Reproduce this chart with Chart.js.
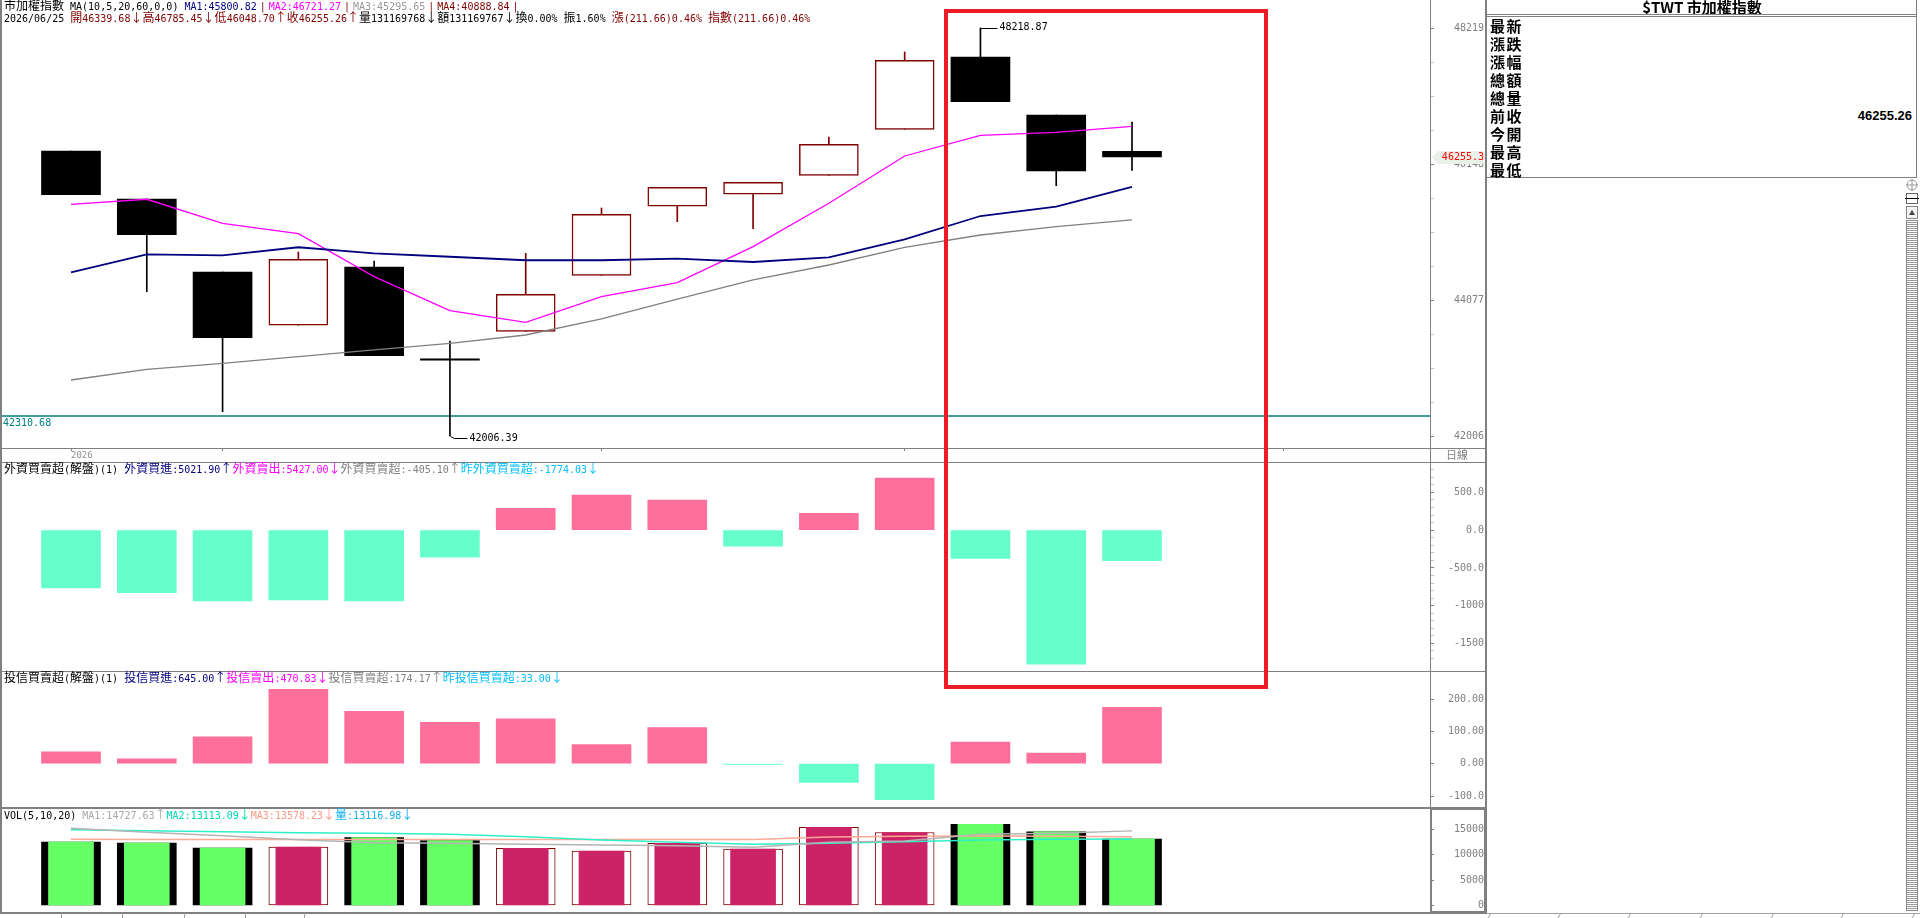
<!DOCTYPE html>
<html lang="zh-Hant">
<head>
<meta charset="utf-8">
<title>市加權指數</title>
<script src="https://cdn.jsdelivr.net/npm/chart.js@4.4.1/dist/chart.umd.min.js"></script>
<style>
html,body{margin:0;padding:0;background:#fff;}
body{width:1920px;height:918px;position:relative;overflow:hidden;}
canvas{position:absolute;left:0;}
.ln{position:absolute;background:#808080;}
.t{position:absolute;white-space:nowrap;font-family:"DejaVu Sans Mono",monospace;font-size:10px;line-height:12px;}
.t .c{font-family:"Noto Sans CJK TC",sans-serif;font-size:12px;line-height:12px;}
.t .p{padding:0 3px;}
.rp{position:absolute;font-family:"Noto Sans CJK TC",sans-serif;font-weight:bold;color:#000;white-space:nowrap;}
</style>
</head>
<body>
<canvas id="cPrice" width="1488" height="462" style="top:0px"></canvas>
<canvas id="cForeign" width="1488" height="209" style="top:462px"></canvas>
<canvas id="cTrust" width="1488" height="137" style="top:671px"></canvas>
<canvas id="cVol" width="1488" height="105" style="top:808px"></canvas>

<!-- frame lines -->
<div class="ln" style="left:0;top:0;width:2px;height:914px"></div>
<div class="ln" style="left:1430px;top:0;width:1px;height:914px"></div>
<div class="ln" style="left:1485px;top:0;width:2px;height:914px"></div>
<div class="ln" style="left:0;top:448px;width:1486px;height:1px"></div>
<div class="ln" style="left:0;top:462px;width:1486px;height:1px"></div>
<div class="ln" style="left:0;top:671px;width:1486px;height:1px"></div>
<div class="ln" style="left:0;top:807px;width:1486px;height:2px"></div>
<div class="ln" style="left:0;top:912px;width:1487px;height:2px"></div>
<div style="position:absolute;left:1430px;top:808px;width:56px;height:105px;border:2px solid #808080;box-sizing:border-box"></div>
<div class="t" style="left:1446px;top:448px;color:#808080"><span class="c" style="font-size:11px">日線</span></div>

<!-- bottom tab strip -->
<svg style="position:absolute;left:0;top:913px" width="1920" height="5">
  <g stroke="#a0a0a0" stroke-width="1">
    <line x1="61.5" y1="0" x2="61.5" y2="5"/><line x1="122.5" y1="0" x2="122.5" y2="5"/>
    <line x1="184.5" y1="0" x2="184.5" y2="5"/><line x1="245.5" y1="0" x2="245.5" y2="5"/>
    <line x1="304.5" y1="0" x2="304.5" y2="5"/>
    <line x1="1487" y1="0.5" x2="1920" y2="0.5"/>
    <line x1="1488" y1="5" x2="1491" y2="0"/><line x1="1558" y1="5" x2="1561" y2="0"/>
    <line x1="1628" y1="5" x2="1631" y2="0"/><line x1="1700" y1="5" x2="1703" y2="0"/>
    <line x1="1771" y1="5" x2="1774" y2="0"/><line x1="1841" y1="5" x2="1844" y2="0"/>
    <line x1="1912" y1="5" x2="1915" y2="0"/>
  </g>
</svg>

<!-- headers -->
<div class="t" id="h1" style="left:4px;top:-1px"></div>
<div class="t" id="h2" style="left:4px;top:11px"></div>
<div class="t" id="hF" style="left:4px;top:462px"></div>
<div class="t" id="hT" style="left:4px;top:671px"></div>
<div class="t" id="hV" style="left:4px;top:808px"></div>

<!-- right info panel -->
<div class="rp" style="left:1487px;top:-4px;width:430px;text-align:center;font-size:15px">$TWT 市加權指數</div>
<div class="ln" style="left:1487px;top:14px;width:430px;height:1px"></div>
<div class="ln" style="left:1487px;top:16px;width:430px;height:1px"></div>
<div class="ln" style="left:1916px;top:0;width:1px;height:178px"></div>
<div class="ln" style="left:1487px;top:177px;width:430px;height:1px"></div>
<div class="rp" id="rpLabels" style="left:1490px;top:17px;font-size:15px;line-height:18px;letter-spacing:1.5px"></div>
<div class="rp" id="rpValue" style="left:1700px;top:107px;width:212px;text-align:right;font-family:'Liberation Sans',sans-serif;font-size:13px;line-height:18px"></div>
<svg style="position:absolute;left:1904px;top:178px" width="16" height="736">
  <defs><pattern id="st" width="4" height="2" patternUnits="userSpaceOnUse"><rect width="4" height="1" fill="#9a9a9a"/></pattern></defs>
  <circle cx="8" cy="7" r="5" fill="none" stroke="#999"/>
  <line x1="2" y1="7" x2="14" y2="7" stroke="#999"/><line x1="8" y1="1" x2="8" y2="13" stroke="#999"/>
  <rect x="2.5" y="15.5" width="11" height="10" fill="#fff" stroke="#666"/>
  <line x1="1" y1="20.5" x2="15" y2="20.5" stroke="#000"/>
  <rect x="2.5" y="28.5" width="11" height="12" fill="#f4f4f4" stroke="#888"/>
  <path d="M5 37 L8 32 L11 37Z" fill="#444"/>
  <rect x="2.5" y="42.5" width="11" height="690" fill="url(#st)" stroke="#888"/>
</svg>

<div id="hl" style="position:absolute;border:4.5px solid #ED1C24;box-sizing:border-box"></div>

<script>
// ---------------- data ----------------
const dayIndex   = [0,1,2,3,4,5,6,7,8,9,10,11,12,13,14];
const opens      = [46346,45615,44503,43692,44580,43165,43600,44453,45504,45687,45976,46676,47777,46894,46339.68];
const highs      = [46346,45615,44503,44808,44671,43453,44788,45478,45793,45869,46559,47854,48218.87,46894,46785.45];
const lows       = [45681,44203,42376,43692,43229,42006.39,43600,44453,45269,45163,45976,46676,47097,45818,46048.70];
const closes     = [45681,45071,43503,44697,43229,43160,44164,45382,45793,45869,46448,47727,47097,46043.60,46255.26];
const ma10       = [44499,44773,44758,44880,44788,44736,44682,44682,44706,44656,44727,45001,45356,45498,45800.82];
const ma5        = [45534,45611,45245,45087,44432,43914,43737,44127,44341,44889,45550,46270,46585,46631,46721.27];
const ma20       = [42859,43022,43113,43214,43316,43418,43544,43788,44092,44382,44610,44880,45067,45193,45295.65];
const refLine    = 42310.68;
const foreignNet = [-763,-828,-937,-922,-937,-358,290,465,400,-210,223,690,-375,-1774.03,-405.10];
const trustNet   = [37,15,83,230,162,128,139,59,112,-2,-58,-111,67,33.00,174.17];
const volume     = [12530,12330,11350,11540,13380,12790,11290,10760,12280,11150,15450,14400,16000,14550,13116.98];
const volMa5     = [15236,14446,13775,12986,12394,12275,12078,11940,11802,11486,12473,12730,14052,14249,14727.63];
const volMa10    = [14960,14762,14565,14367,14249,14052,13578,12927,12473,12078,12275,12591,12927,13065,13113.09];
const volMa20    = [13060,13050,13040,13050,13040,13030,13040,13030,13020,13030,13500,13650,13700,13650,13578.23];
const priceTicks   = [42006,44077,46148,48219];
const foreignTicks = [-1500,-1000,-500,0,500];
const trustTicks   = [-100,0,100,200];
const volTicks     = [0,5000,10000,15000];
const dateMarks    = [0,2,7,11,16];
const dateLabels   = {0:'2026'};
const infoLabels   = ['最新','漲跌','漲幅','總額','總量','前收','今開','最高','最低'];
const prevClose    = 46255.26;

// ---------------- helpers ----------------
const X_MIN = -0.9105, X_MAX = 17.932;
const isUp = dayIndex.map(i => closes[i] >= opens[i]);
const pts = arr => arr.map((v,i) => ({x: dayIndex[i], y: v}));
const MONO = 'DejaVu Sans Mono';

function makeTicks(majors, step, lo, hi){
  const out = [];
  for (let k = 0; ; k++){ const v = majors[0] + (k - Math.ceil((majors[0]-lo)/step)) * step; if (v > hi + 1e-6) break; if (v >= lo - 1e-6) out.push(+v.toFixed(4)); }
  return out;
}
function noPad(s){ s.paddingTop = 0; s.paddingBottom = 0; s.paddingLeft = 0; s.paddingRight = 0; }
function yAxis(min, max, values, majors, labelFn){
  const isMajor = v => majors.some(m => Math.abs(m - v) < 0.01);
  return {
    position:'right', min, max,
    afterFit(s){ s.width = 54; noPad(s); },
    afterBuildTicks(s){ s.ticks = values.map(v => ({value:v})); },
    border:{display:true, color:'#808080', width:1},
    grid:{drawOnChartArea:false, drawTicks:true, tickLength:4, tickWidth:1,
      tickColor: c => (c.tick && isMajor(c.tick.value)) ? '#808080' : '#c4c4c4'},
    ticks:{autoSkip:false, padding:0, crossAlign:'far', color:'#808080',
      font:{family:MONO, size:10}, callback: v => isMajor(v) ? labelFn(v) : ''}
  };
}
function xHidden(){
  return {type:'linear', min:X_MIN, max:X_MAX, offset:false, display:false, grid:{offset:false}};
}
function common(scales){
  return {
    responsive:false, animation:false, devicePixelRatio:1, events:[],
    layout:{padding:{left:2, right:4, top:0, bottom:0}, autoPadding:false},
    plugins:{legend:{display:false}, tooltip:{enabled:false}},
    scales
  };
}

// ---------------- price chart ----------------
const priceDecor = {
  id:'priceDecor',
  afterDatasetsDraw(chart){
    const {ctx} = chart, x = chart.scales.x, y = chart.scales.y;
    ctx.save();
    ctx.font = '10px "' + MONO + '"';
    ctx.textBaseline = 'middle';
    ctx.textAlign = 'left';
    ctx.fillStyle = '#008080';
    ctx.fillText(refLine.toFixed(2), 3, y.getPixelForValue(refLine) + 7);
    const hi = Math.max(...highs), hiI = highs.indexOf(hi);
    const lo = Math.min(...lows),  loI = lows.indexOf(lo);
    ctx.strokeStyle = '#000'; ctx.fillStyle = '#000'; ctx.lineWidth = 1;
    let px = Math.round(x.getPixelForValue(hiI)) + 0.5, py = Math.round(y.getPixelForValue(hi)) + 0.5;
    ctx.beginPath(); ctx.moveTo(px, py); ctx.lineTo(px + 17, py); ctx.stroke();
    ctx.fillText(hi.toFixed(2), px + 19, py - 1);
    px = Math.round(x.getPixelForValue(loI)) + 0.5; py = Math.round(y.getPixelForValue(lo)) + 0.5;
    ctx.beginPath(); ctx.moveTo(px, py); ctx.lineTo(px + 4, py + 2); ctx.lineTo(px + 17, py + 2); ctx.stroke();
    ctx.fillText(lo.toFixed(2), px + 19, py + 2);
    ctx.restore();
  },
  afterDraw(chart){
    const {ctx} = chart, y = chart.scales.y;
    const last = closes[closes.length - 1];
    const yc = Math.round(y.getPixelForValue(last)) + 0.5;
    const l = y.left + 2, r = y.right + 1;
    ctx.save();
    ctx.fillStyle = '#E9F1E9';
    ctx.beginPath(); ctx.moveTo(l, yc); ctx.lineTo(l + 6, yc - 6.5); ctx.lineTo(r, yc - 6.5); ctx.lineTo(r, yc + 6.5); ctx.lineTo(l + 6, yc + 6.5); ctx.closePath(); ctx.fill();
    ctx.fillStyle = '#FF0000'; ctx.font = '10px "' + MONO + '"'; ctx.textAlign = 'right'; ctx.textBaseline = 'middle';
    ctx.fillText(last.toFixed(1), y.right, yc);
    ctx.restore();
  }
};

const priceChart = new Chart(document.getElementById('cPrice'), {
  type:'bar',
  data:{datasets:[
    {type:'line', data:pts(ma10), borderColor:'#000080', borderWidth:1.8, pointRadius:0, order:0},
    {type:'line', data:pts(ma5),  borderColor:'#FF00FF', borderWidth:1.3, pointRadius:0, order:0},
    {type:'line', data:pts(ma20), borderColor:'#808080', borderWidth:1.3, pointRadius:0, order:0},
    {type:'line', data:[{x:X_MIN,y:refLine},{x:X_MAX,y:refLine}], borderColor:'#008080', borderWidth:1.5, pointRadius:0, order:3},
    {type:'bar', data:dayIndex.map(i => ({x:i, y:[lows[i], highs[i]]})),
      backgroundColor:dayIndex.map(i => isUp[i] ? '#800000' : '#000000'),
      barThickness:1, grouped:false, order:2},
    {type:'bar', data:dayIndex.map(i => ({x:i, y:[opens[i], closes[i]]})),
      backgroundColor:dayIndex.map(i => isUp[i] ? '#FFFFFF' : '#000000'),
      borderColor:dayIndex.map(i => isUp[i] ? '#800000' : '#000000'),
      borderWidth:dayIndex.map(i => isUp[i] ? 1.5 : 0),
      borderSkipped:false, barThickness:59, minBarLength:1.5, grouped:false, order:1}
  ]},
  options:common({
    x:{type:'linear', min:X_MIN, max:X_MAX, offset:false, position:'bottom',
      afterFit(s){ s.height = 14; noPad(s); },
      afterBuildTicks(s){ s.ticks = dateMarks.map(v => ({value:v})); },
      border:{display:false},
      grid:{display:true, offset:false, drawOnChartArea:false, drawTicks:true, tickLength:3, color:'#808080'},
      ticks:{autoSkip:false, maxRotation:0, align:'start', padding:-1, color:'#909090',
        font:{family:MONO, size:9}, callback: v => dateLabels[v] || ''}},
    y:yAxis(41823.3, 48645.4, makeTicks(priceTicks, 517.75, 41823.3, 48645.4), priceTicks, v => String(Math.round(v)))
  }),
  plugins:[priceDecor]
});

// ---------------- foreign net ----------------
const fmtF = v => { let s = v.toFixed(1).slice(0,6); if (s.endsWith('.')) s = s.slice(0,-1); return s; };
new Chart(document.getElementById('cForeign'), {
  type:'bar',
  data:{datasets:[{data:pts(foreignNet),
    backgroundColor:foreignNet.map(v => v >= 0 ? '#FF6F9C' : '#66FFCC'),
    barThickness:59, grouped:false}]},
  options:common({
    x:xHidden(),
    y:yAxis(-1864.9, 903.3, makeTicks(foreignTicks, 100, -1750, 850), foreignTicks, fmtF)
  })
});

// ---------------- trust net ----------------
new Chart(document.getElementById('cTrust'), {
  type:'bar',
  data:{datasets:[{data:pts(trustNet),
    backgroundColor:trustNet.map(v => v >= 0 ? '#FF6F9C' : '#66FFCC'),
    barThickness:59, grouped:false}]},
  options:common({
    x:xHidden(),
    y:yAxis(-137.0, 286.7, trustTicks, trustTicks, v => v.toFixed(2).slice(0,6))
  })
});

// ---------------- volume ----------------
new Chart(document.getElementById('cVol'), {
  type:'bar',
  data:{datasets:[
    {type:'line', data:pts(volMa5),  borderColor:'#B4B4B4', borderWidth:1.5, pointRadius:0, order:0},
    {type:'line', data:pts(volMa10), borderColor:'#2EF0C8', borderWidth:1.5, pointRadius:0, order:0},
    {type:'line', data:pts(volMa20), borderColor:'#FFA894', borderWidth:1.5, pointRadius:0, order:0},
    {type:'bar', data:pts(volume),
      backgroundColor:dayIndex.map(i => isUp[i] ? '#FFFFFF' : '#000000'),
      borderColor:dayIndex.map(i => isUp[i] ? '#800000' : '#000000'),
      borderWidth:dayIndex.map(i => isUp[i] ? 1 : 0),
      borderSkipped:false, barThickness:59, grouped:false, order:2},
    {type:'bar', data:pts(volume),
      backgroundColor:dayIndex.map(i => isUp[i] ? '#CC2266' : '#66FF66'),
      barThickness:45, grouped:false, order:1}
  ]},
  options:common({
    x:xHidden(),
    y:yAxis(-1480, 19242, volTicks, volTicks, v => String(v))
  })
});

// ---------------- text ----------------
function esc(s){ return s.replace(/&/g,'&amp;').replace(/</g,'&lt;'); }
function mix(s){ return esc(s).replace(/[\u2190-\u21ff\u3000-\u9fff\uff00-\uffef]+/g, m => '<span class="c">' + m + '</span>'); }
function header(id, parts){
  document.getElementById(id).innerHTML = parts.map(([t, c]) =>
    t === '|' ? `<span class="p" style="color:${c}">|</span>` : `<span style="color:${c}">${mix(t)}</span>`).join('');
}
const f2 = v => v.toFixed(2);
header('h1', [['市加權指數 MA(10,5,20,60,0,0) ','#000'],
  ['MA1:' + f2(ma10[14]),'#000080'],['|','#800000'],
  ['MA2:' + f2(ma5[14]),'#FF00FF'],['|','#800000'],
  ['MA3:' + f2(ma20[14]),'#999999'],['|','#800000'],
  ['MA4:40888.84','#800000'],['|','#800000']]);
header('h2', [['2026/06/25 ','#000'],
  ['開' + f2(opens[14]) + '↓高' + f2(highs[14]) + '↓低' + f2(lows[14]) + '↑收' + f2(closes[14]) + '↑','#800000'],
  ['量131169768↓額131169767↓換0.00% 振1.60% ','#000'],
  ['漲(211.66)0.46% 指數(211.66)0.46%','#800000']]);
header('hF', [['外資買賣超(解盤)(1) ','#000'],['外資買進:5021.90↑','#000080'],['外資賣出:5427.00↓','#FF00FF'],
  ['外資買賣超:' + f2(foreignNet[14]) + '↑','#808080'],['昨外資買賣超:' + f2(foreignNet[13]) + '↓','#00BFFF']]);
header('hT', [['投信買賣超(解盤)(1) ','#000'],['投信買進:645.00↑','#000080'],['投信賣出:470.83↓','#FF00FF'],
  ['投信買賣超:' + f2(trustNet[14]) + '↑','#808080'],['昨投信買賣超:' + f2(trustNet[13]) + '↓','#00BFFF']]);
header('hV', [['VOL(5,10,20) ','#000'],['MA1:' + f2(volMa5[14]) + '↑','#A8A8A8'],['MA2:' + f2(volMa10[14]) + '↓','#00D8B0'],
  ['MA3:' + f2(volMa20[14]) + '↓','#FF9A84'],['量:' + f2(volume[14]) + '↓','#10B0F0']]);

document.getElementById('rpLabels').innerHTML = infoLabels.join('<br>');
document.getElementById('rpValue').textContent = prevClose.toFixed(2);

// highlight box, placed through the price chart's x scale
const highlightSpan = [11.52, 15.79];
const hx = priceChart.scales.x;
const hl = document.getElementById('hl');
const hlL = hx.getPixelForValue(highlightSpan[0]), hlR = hx.getPixelForValue(highlightSpan[1]);
hl.style.left = hlL + 'px'; hl.style.width = (hlR - hlL) + 'px';
hl.style.top = '9px'; hl.style.height = '680px';
</script>
</body>
</html>
